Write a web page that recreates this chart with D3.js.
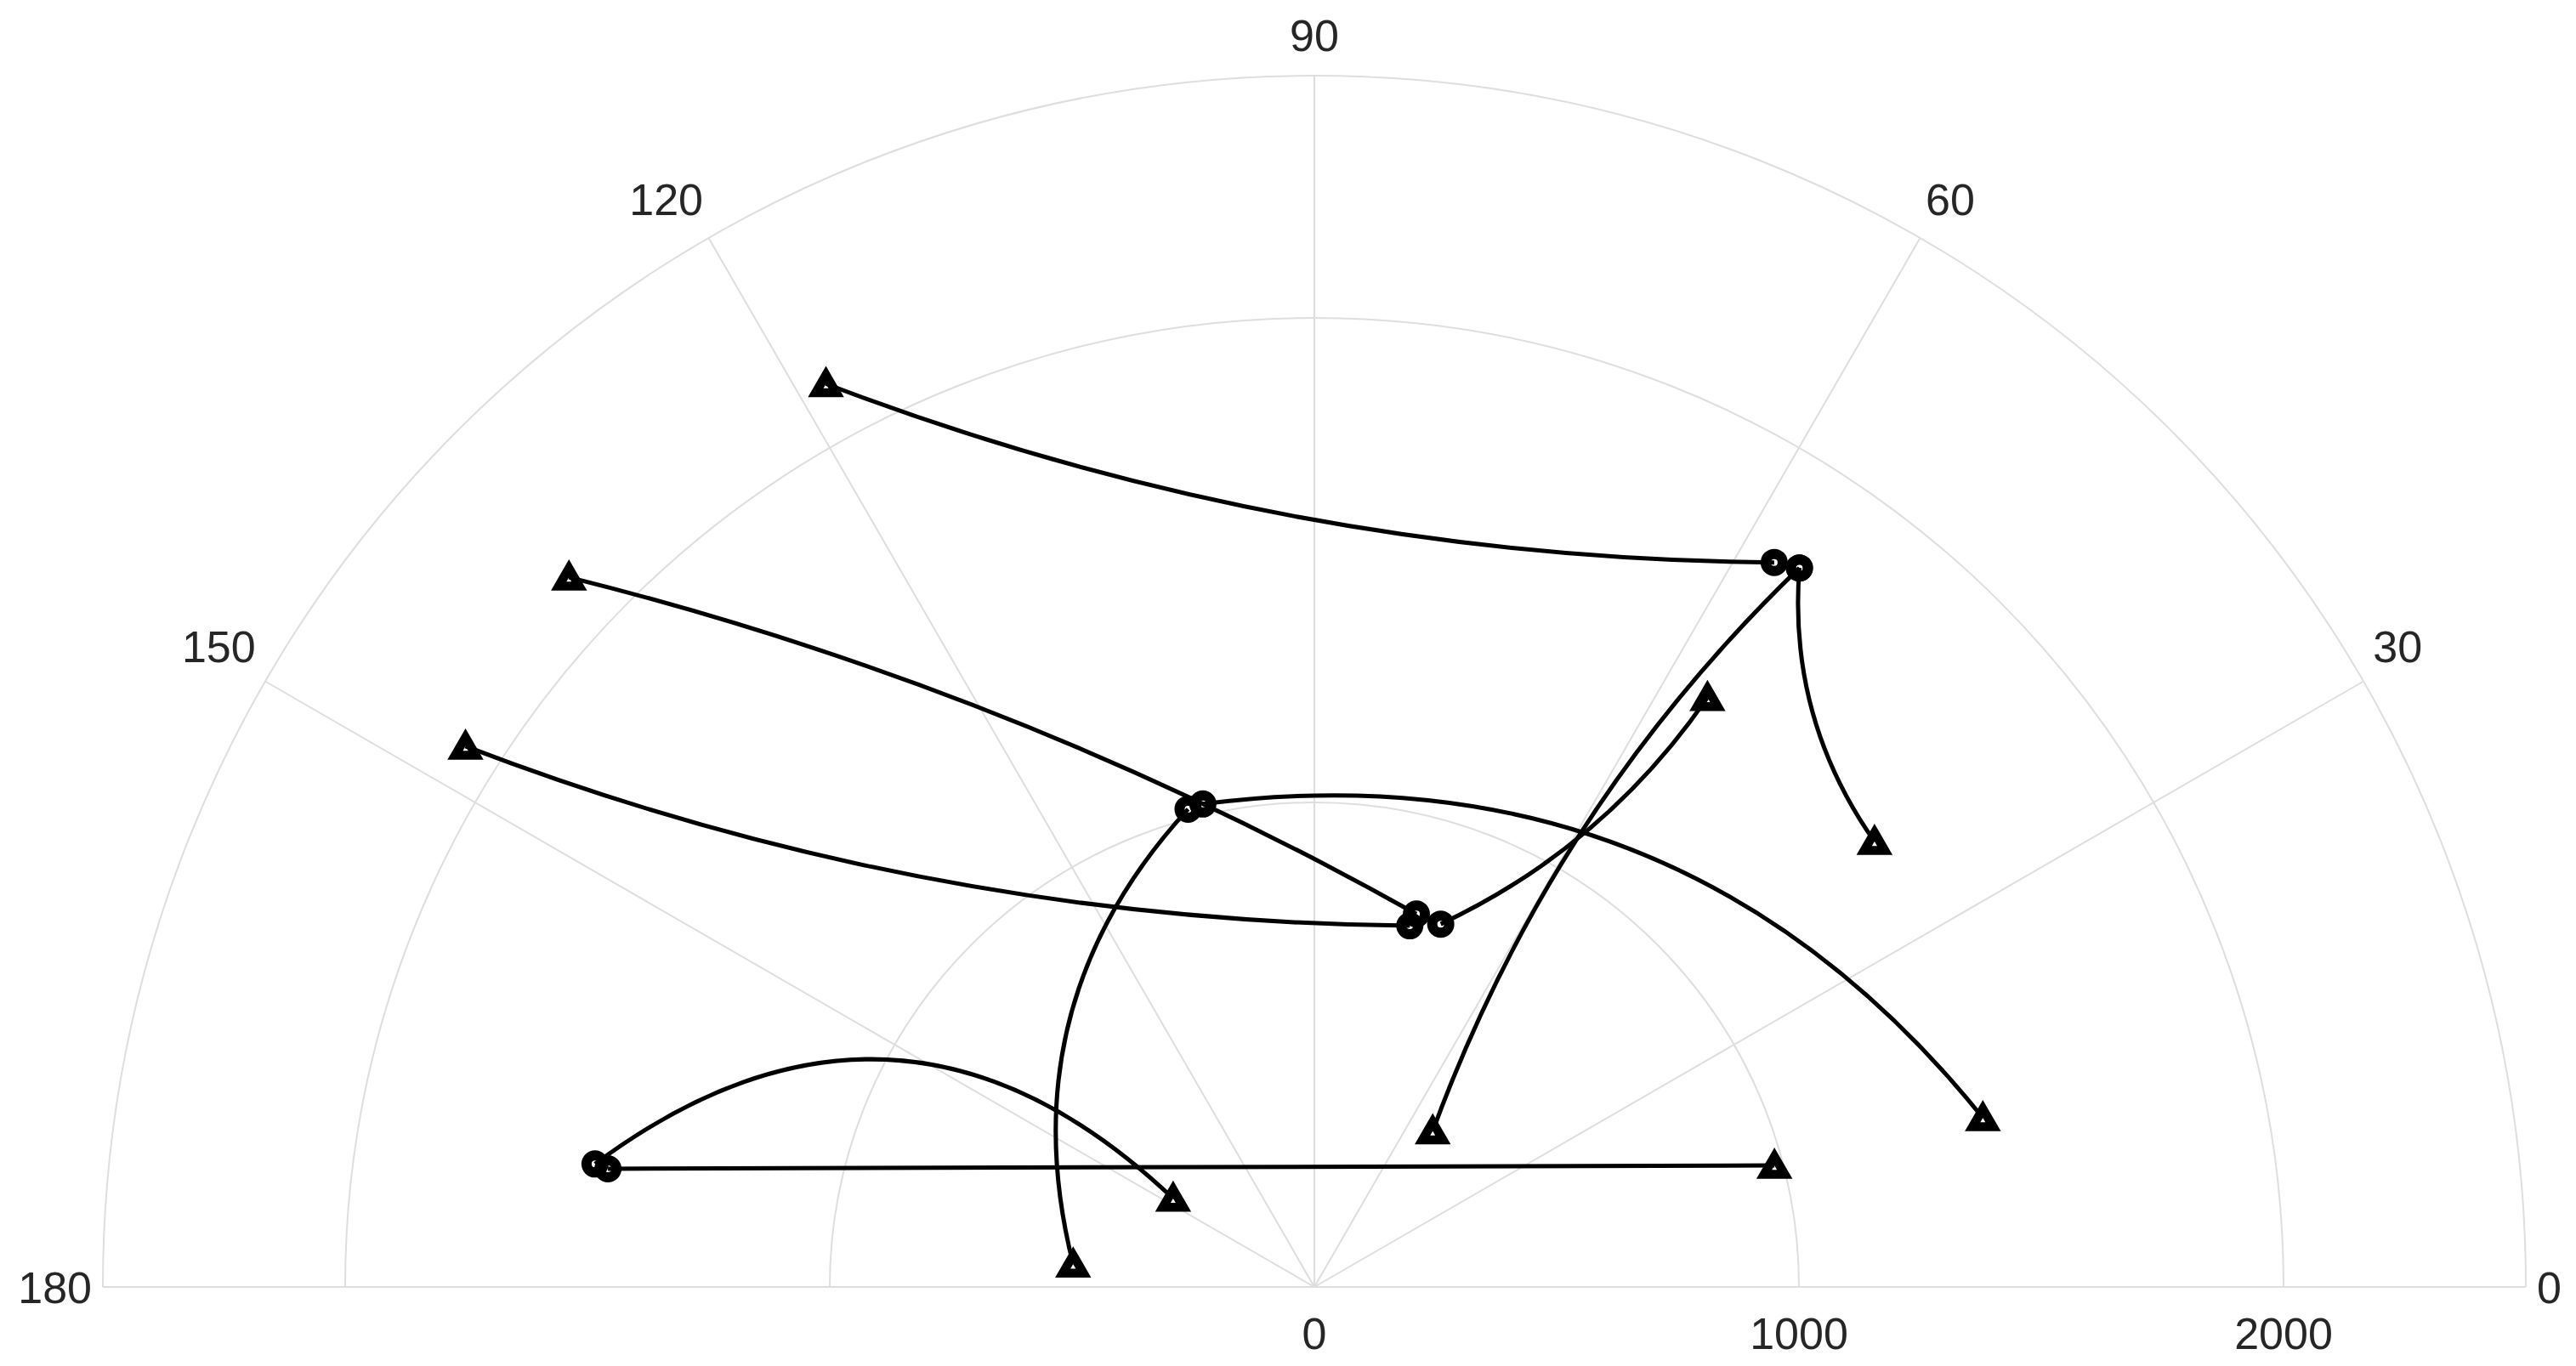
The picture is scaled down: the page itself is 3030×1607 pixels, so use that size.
<!DOCTYPE html>
<html>
<head>
<meta charset="utf-8">
<script src="https://cdn.jsdelivr.net/npm/d3@7"></script>
<style>
  html, body { margin: 0; padding: 0; background: #fff; }
  svg { display: block; }
  .lbl { font-family: "Liberation Sans", Arial, sans-serif; font-size: 52px; fill: #262626; }
</style>
</head>
<body>
<svg id="chart" width="3030" height="1607"></svg>
<script>
/* ── DATA ── */
// each link: origin (circle) -> destination (triangle), theta in degrees, r in data units
const originTheta = [57.6, 56.0, 56.0, 74.7, 103.0, 104.8, 75.2, 70.8, 170.5, 170.3];
const originR     = [1771, 1790, 1790, 798, 1023, 1020, 771, 793, 1478, 1506];
const destTheta   = [118.4, 38.5, 52.8, 136.4, 14.2, 174.6, 147.5, 56.3, 14.8, 147.9];
const destR       = [2119, 1477, 404, 2124, 1423, 500, 2077, 1462, 982, 344];
const bend        = [0.09, -0.18, -0.115, -0.067, 0.28, -0.27, 0.09, -0.135, 0, 0.42];

const thetaTicks = [0, 30, 60, 90, 120, 150, 180];
const rTicks = [0, 1000, 2000];
const rGrid = [1000, 2000];
const rMax = 2500;

/* ── SETUP ── */
const W = 3030, H = 1607;
const cx = 1546, cy = 1514, R = 1425;
const svg = d3.select('#chart');

const r = d3.scaleLinear().domain([0, rMax]).range([0, R]);
const ang = d3.scaleLinear().domain([0, 180]).range([0, Math.PI]);

function pt(t, v) {
  const a = ang(t);
  return [cx + r(v) * Math.cos(a), cy - r(v) * Math.sin(a)];
}

const GRID = '#dedede';
const grid = svg.append('g').attr('fill', 'none').attr('stroke', GRID).attr('stroke-width', 2);

// angular spokes
thetaTicks.forEach(t => {
  const p = pt(t, rMax);
  grid.append('line').attr('x1', cx).attr('y1', cy).attr('x2', p[0]).attr('y2', p[1]);
});

// radial circles + outer spine
rGrid.concat([rMax]).forEach(v => {
  const p = d3.path();
  p.arc(cx, cy, r(v), Math.PI, 2 * Math.PI);
  grid.append('path').attr('d', p.toString());
});

// theta labels: anchored just outside the spine, aligned away from the centre
const capH = 52 * 0.716, desc = 16, A = R + 13;
thetaTicks.forEach(t => {
  const a = ang(t);
  const c = Math.cos(a), s = Math.sin(a);
  const anchor = Math.abs(c) < 0.01 ? 'middle' : (c > 0 ? 'start' : 'end');
  const y = s > 0.01 ? cy - A * s - desc : cy + capH / 2;
  svg.append('text').attr('class', 'lbl')
    .attr('x', cx + A * c)
    .attr('y', y)
    .attr('text-anchor', anchor)
    .text(t);
});

// radial labels along the bottom
rTicks.forEach(v => {
  svg.append('text').attr('class', 'lbl')
    .attr('x', cx + r(v)).attr('y', cy + 73)
    .attr('text-anchor', 'middle')
    .text(v);
});

/* ── LINKS ── */
const links = originTheta.map((t, i) => ({
  p0: pt(t, originR[i]),
  p1: pt(destTheta[i], destR[i]),
  k: bend[i]
}));

const linkG = svg.append('g').attr('fill', 'none').attr('stroke', '#000').attr('stroke-width', 5);
links.forEach(l => {
  const dx = l.p1[0] - l.p0[0], dy = l.p1[1] - l.p0[1];
  const mx = (l.p0[0] + l.p1[0]) / 2, my = (l.p0[1] + l.p1[1]) / 2;
  const c = [mx + l.k * dy, my - l.k * dx];
  const p = d3.path();
  p.moveTo(l.p0[0], l.p0[1]);
  p.quadraticCurveTo(c[0], c[1], l.p1[0], l.p1[1]);
  linkG.append('path').attr('d', p.toString());
});

/* ── MARKERS ── */
const mk = svg.append('g').attr('fill', 'none').attr('stroke', '#000')
  .attr('stroke-linejoin', 'miter');

links.forEach(l => {
  mk.append('circle').attr('cx', l.p0[0]).attr('cy', l.p0[1]).attr('r', 10)
    .attr('stroke-width', 12);
});

const rho = 7, side = 2 * Math.sqrt(3) * rho, th = 3 * rho;
links.forEach(l => {
  const [x, y] = l.p1;
  mk.append('path').attr('stroke-width', 10.5)
    .attr('d', `M${x},${y - th / 2}L${x + side / 2},${y + th / 2}L${x - side / 2},${y + th / 2}Z`);
});
</script>
</body>
</html>
